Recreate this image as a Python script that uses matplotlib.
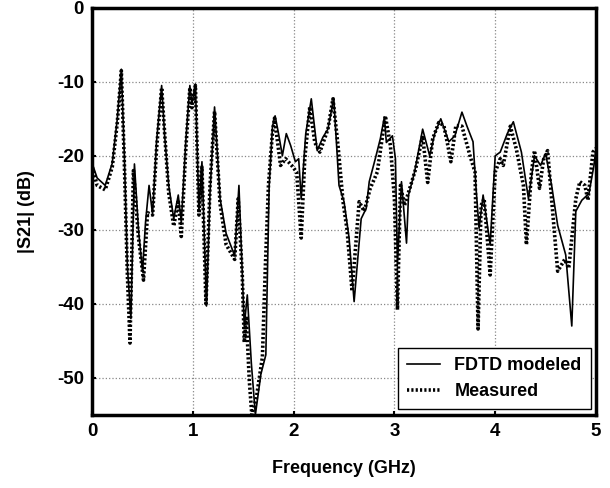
import matplotlib.pyplot as plt

# FDTD modeled (solid)
freq_fdtd = [0, 0.05, 0.13, 0.2, 0.25, 0.29, 0.32, 0.35, 0.385, 0.42, 0.46, 0.5, 0.53,
             0.565, 0.6, 0.64, 0.69, 0.72, 0.76, 0.81, 0.855, 0.885, 0.93, 0.97, 0.99,
             1.025, 1.06, 1.09, 1.135, 1.17, 1.215, 1.27, 1.33, 1.415, 1.457, 1.51,
             1.54, 1.58, 1.62, 1.675, 1.724, 1.757, 1.79, 1.816, 1.85, 1.888, 1.927,
             1.97, 2.017, 2.05, 2.075, 2.12, 2.175, 2.234, 2.29, 2.34, 2.398, 2.45,
             2.50, 2.55, 2.60, 2.67, 2.72, 2.75, 2.81, 2.86, 2.90, 2.92, 2.98, 3.01,
             3.03, 3.07, 3.12, 3.14, 3.20, 3.28, 3.35, 3.40, 3.46, 3.54, 3.60, 3.67,
             3.72, 3.78, 3.81, 3.84, 3.88, 3.95, 4.0, 4.05, 4.12, 4.18, 4.26, 4.33,
             4.39, 4.45, 4.50, 4.56, 4.62, 4.70, 4.76, 4.80, 4.86, 4.93, 4.98, 5.0]
s21_fdtd = [-21, -23, -24, -21, -15, -8.3, -20, -35, -42, -21.1, -30, -35.6, -29,
            -24, -27.9, -18, -10.5, -17.3, -24, -28.5, -25.3, -29, -18, -10.5, -13,
            -10.3, -27.5, -20.8, -40.3, -25, -13.4, -25.8, -30.5, -33.5, -24, -43,
            -38.8, -48, -55, -49.5, -46.9, -24, -16, -14.6, -17, -20, -17,
            -18.6, -20.8, -20.4, -25.8, -17, -12.3, -19.3, -17.5, -16.4, -12.2, -24,
            -26.2, -31.1, -39.7, -28.5, -27.1, -23.5, -20.4, -17.7, -14.8, -18.2, -17.3, -20.4,
            -34.7, -23.5, -31.8, -25.3, -22.2, -16.4, -20, -17, -15, -18.1, -17.3, -14.1,
            -16, -18.1, -24.4, -29.8, -25.3, -32, -20, -19.5, -17, -15.4, -19.5, -25.8,
            -20, -21.3, -19.7, -24, -29.4, -33.4, -43, -27.5, -26, -25.1, -21.3, -19]

# Measured (dotted)
freq_meas = [0, 0.05, 0.13, 0.2, 0.25, 0.29, 0.32, 0.35, 0.376, 0.41, 0.46, 0.51, 0.55,
             0.6, 0.64, 0.69, 0.72, 0.76, 0.81, 0.855, 0.885, 0.93, 0.97, 0.99, 1.025,
             1.06, 1.09, 1.13, 1.17, 1.215, 1.27, 1.33, 1.415, 1.45, 1.49, 1.51, 1.53,
             1.56, 1.585, 1.63, 1.69, 1.72, 1.75, 1.79, 1.81, 1.87, 1.92, 1.98, 2.03,
             2.075, 2.11, 2.16, 2.21, 2.26, 2.34, 2.39, 2.44, 2.49, 2.53, 2.58, 2.65,
             2.70, 2.76, 2.83, 2.91, 2.96, 3.0, 3.03, 3.06, 3.10, 3.15, 3.21, 3.28,
             3.33, 3.38, 3.44, 3.49, 3.53, 3.56, 3.61, 3.67, 3.75, 3.80, 3.83, 3.86,
             3.89, 3.95, 4.0, 4.05, 4.08, 4.15, 4.21, 4.28, 4.31, 4.36, 4.39, 4.44,
             4.48, 4.52, 4.57, 4.62, 4.69, 4.73, 4.80, 4.84, 4.89, 4.92, 4.97, 5.0]
s21_meas = [-21.5, -24, -24.6, -21.5, -15.5, -8.5, -21, -36, -45.3, -22, -31, -36.8, -27.7,
            -28, -19, -10.8, -17, -25, -29.5, -26, -30.9, -19, -10.8, -13.5, -10.5,
            -28, -21.5, -40, -24, -14, -26.5, -32, -34, -25.8, -36.1, -45.2, -41.7,
            -50.4, -55, -52.7, -47.2, -34.7, -24, -16.8, -14.9, -21.3, -20.4, -21.3, -22.2,
            -31.1, -20.4, -13.4, -18.2, -19.5, -16.4, -12.3, -18.6, -26.2, -30, -38.3, -26.2,
            -27.5, -24.4, -22.2, -14.6, -18.6, -25.8, -40.8, -24, -26.7, -24.5, -21.8, -17.3,
            -23.6, -17.7, -15.5, -15.9, -18.6, -20.8, -15.9, -16, -20, -22.2, -43.4, -26.7,
            -25.8, -36.1, -22.2, -20.4, -21.3, -16, -19.1, -24, -32, -22.2, -19.3, -24.4,
            -20.5, -19.3, -27.5, -35.6, -34, -35.2, -25.8, -23.5, -24, -26, -19.5, -19]

plt.rcParams['font.family'] = ['Liberation Sans', 'DejaVu Sans']
plt.rcParams['font.weight'] = 'bold'
plt.rcParams['axes.unicode_minus'] = False

fig = plt.figure(figsize=(6.1, 4.88), dpi=100)
ax = fig.add_axes([0.151, 0.150, 0.826, 0.834])

ax.plot(freq_fdtd, s21_fdtd, color='black', lw=1.2, label='FDTD modeled')
ax.plot(freq_meas, s21_meas, color='black', lw=2.6, ls=(0, (0.6, 0.6)), label='Measured')

ax.set_xlim(0, 5)
ax.set_ylim(-55, 0)
ax.set_xticks([0, 1, 2, 3, 4, 5])
ax.set_yticks([0, -10, -20, -30, -40, -50])
ax.tick_params(direction='in', length=3, width=1.5, labelsize=13.5, pad=6)
for lab in ax.get_xticklabels() + ax.get_yticklabels():
    lab.set_fontweight('bold')
ax.grid(True, color='#888888', ls=':', lw=0.9)
for sp in ax.spines.values():
    sp.set_linewidth(2.5)

ax.set_xlabel('Frequency (GHz)', fontsize=13, fontweight='bold', labelpad=14)
ax.set_ylabel('|S21| (dB)', fontsize=13, fontweight='bold', labelpad=16)

leg = ax.legend(loc='lower right', fontsize=13, fancybox=False, framealpha=1,
                edgecolor='black', handlelength=1.8, borderaxespad=0.3,
                borderpad=0.5, labelspacing=0.5)
leg.get_frame().set_linewidth(1.0)
for t in leg.get_texts():
    t.set_fontweight('bold')

fig.savefig('out.png', dpi=100)
